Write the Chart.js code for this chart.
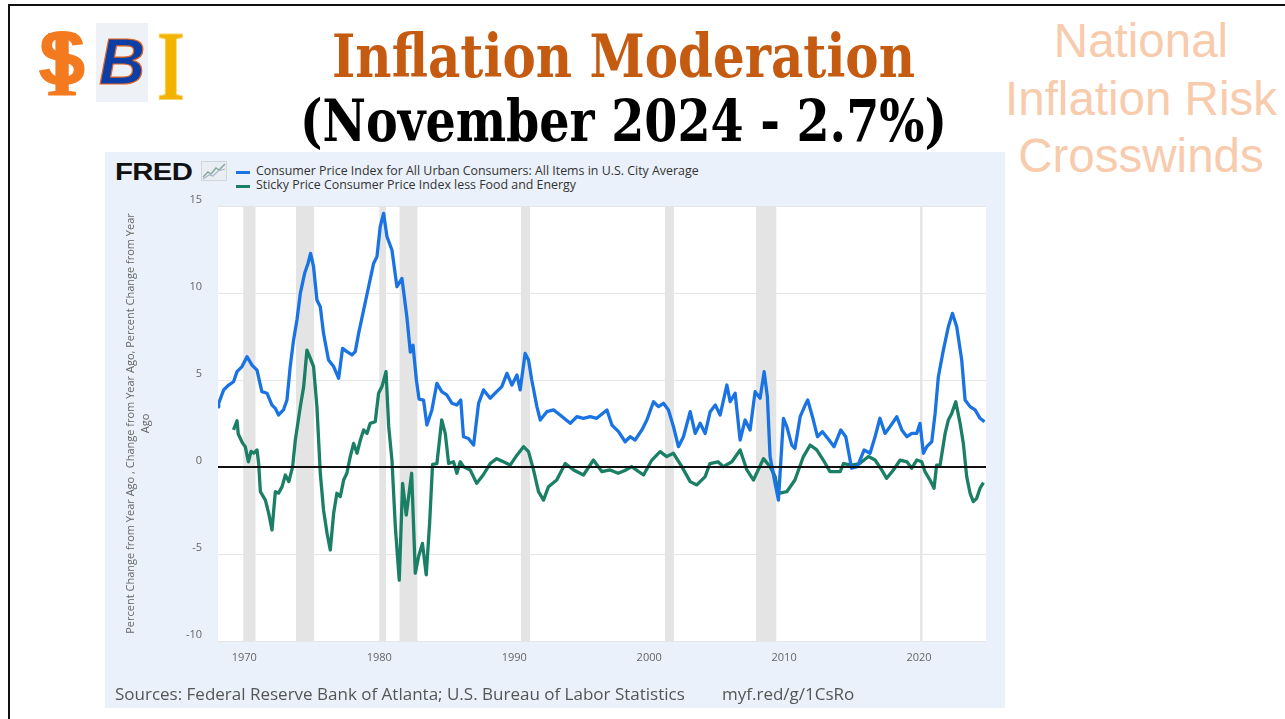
<!DOCTYPE html>
<html>
<head>
<meta charset="utf-8">
<script src="https://cdn.jsdelivr.net/npm/chart.js@4.4.1/dist/chart.umd.min.js"></script>
<style>
  html, body { margin:0; padding:0; background:#fff; }
  body { width:1285px; height:719px; overflow:hidden; position:relative; font-family:"Open Sans", sans-serif; }
  .frame { position:absolute; left:8px; top:4px; width:1300px; height:740px; border:2.5px solid #111; box-sizing:border-box; }
  .title { position:absolute; white-space:nowrap; font-family:"DejaVu Serif", serif; font-weight:bold; transform-origin:0 0; }
  .side { position:absolute; left:990px; width:302px; top:12px; text-align:center; font-family:"Liberation Sans", Arial, sans-serif; font-size:47.5px; line-height:57.5px; color:#f8cbad; }
  .panel { position:absolute; left:105px; top:152px; width:900px; height:556px; background:#eaf1fa; }
  .fred { position:absolute; left:10px; top:6px; font-family:"Liberation Sans", Arial, sans-serif; font-weight:900; font-size:24px; letter-spacing:-0.5px; color:#111; transform:scaleX(1.22); transform-origin:0 0; }
  .leg { position:absolute; left:131px; font-size:12.4px; color:#333; white-space:nowrap; font-family:"Open Sans", sans-serif; }
  .leg i { position:absolute; left:0; top:8px; width:14px; height:3px; }
  .leg span { position:absolute; left:20px; top:0; line-height:16px; }
  .src { position:absolute; top:530px; font-size:17px; color:#555; white-space:nowrap; font-family:"Open Sans", sans-serif; }
  .logo { position:absolute; }
</style>
</head>
<body>
<div class="frame"></div>

<!-- logos -->
<div class="logo" style="left:33px;top:22px;width:58px;height:84px;">
  <span style="position:absolute;left:0;top:-6px;width:58px;text-align:center;font-family:'Liberation Sans',Arial,sans-serif;font-weight:bold;font-size:76px;line-height:84px;color:#f47a20;">S</span>
  <span style="position:absolute;left:0;top:-6px;width:58px;text-align:center;font-family:'Liberation Serif',serif;font-weight:bold;font-size:96px;line-height:96px;color:#f47a20;transform:scaleX(0.9);">I</span>
</div>
<div class="logo" style="left:96px;top:23px;width:52px;height:79px;background:#eef1f6;">
  <span style="position:absolute;left:0;top:6px;width:52px;text-align:center;font-family:'Liberation Sans',Arial,sans-serif;font-weight:bold;font-style:italic;font-size:64px;line-height:66px;color:#0b3fa6;-webkit-text-stroke:1.2px #e4661f;">B</span>
</div>
<div class="logo" style="left:152px;top:26px;width:34px;height:78px;">
  <span style="position:absolute;left:0;top:-8px;width:34px;text-align:center;font-family:'Liberation Serif',serif;font-weight:bold;font-size:100px;line-height:96px;color:#f2b400;-webkit-text-stroke:1px #f7d46a;transform:scaleX(0.72);transform-origin:50% 0;">I</span>
</div>

<div id="t1" class="title" data-left="332" data-w="583" style="top:26px;font-size:60px;line-height:60px;color:#c55a11;">Inflation Moderation</div>
<div id="t2" class="title" data-left="300" data-w="647" style="top:92px;font-size:57px;line-height:57px;color:#000;">(November 2024 - 2.7%)</div>

<div class="side">National<br>Inflation Risk<br>Crosswinds</div>

<div class="panel">
  <div class="fred">FRED</div>
  <svg style="position:absolute;left:96px;top:9px;" width="26" height="20" viewBox="0 0 26 20">
    <rect x="0.5" y="0.5" width="25" height="19" fill="#e9eef3" stroke="#cfd6dc"/>
    <polyline points="2,16 7,11 10,13 15,7 18,9 24,3" fill="none" stroke="#8aa89a" stroke-width="1.5"/>
    <polyline points="2,18 8,14 12,15 17,10 24,8" fill="none" stroke="#a9b8c6" stroke-width="1.2"/>
  </svg>
  <div class="leg" style="top:11px;"><i style="background:#1a73e3"></i><span id="lg1"></span></div>
  <div class="leg" style="top:25px;"><i style="background:#1b7f66"></i><span id="lg2"></span></div>
  <div style="position:absolute;left:0;top:0;width:900px;height:556px;"><canvas id="c"></canvas></div>
  <div class="src" style="left:10px;" id="srcNote"></div>
  <div class="src" style="left:617px;">myf.red/g/1CsRo</div>
</div>

<script>
// ---------------- data ----------------
const seriesNames = [
  "Consumer Price Index for All Urban Consumers: All Items in U.S. City Average",
  "Sticky Price Consumer Price Index less Food and Energy"
];
const yAxisTitle = ["Percent Change from Year Ago , Change from Year Ago, Percent Change from Year", "Ago"];
const xTickLabels = [1970, 1980, 1990, 2000, 2010, 2020];
const yTickLabels = [15, 10, 5, 0, -5, -10];

const cpiDates = [1968.05,1968.1,1968.47,1968.84,1969.2,1969.46,1969.83,1970.2,1970.57,1970.94,1971.3,1971.68,1972.05,1972.3,1972.54,1972.9,1973.16,1973.4,1973.65,1973.9,1974.15,1974.47,1974.72,1974.91,1975.13,1975.38,1975.63,1975.87,1976.24,1976.62,1976.99,1977.28,1977.6,1977.98,1978.22,1978.47,1978.84,1979.21,1979.58,1979.83,1980.07,1980.32,1980.57,1980.94,1981.31,1981.68,1982.05,1982.3,1982.5,1982.75,1982.95,1983.28,1983.53,1983.9,1984.27,1984.63,1985.0,1985.39,1985.75,1986.04,1986.24,1986.61,1986.99,1987.36,1987.73,1988.22,1988.7,1989.08,1989.46,1989.83,1990.2,1990.44,1990.81,1991.06,1991.3,1991.68,1991.93,1992.42,1992.91,1993.4,1994.15,1994.64,1995.13,1995.63,1996.11,1996.87,1997.24,1997.73,1998.22,1998.59,1998.96,1999.46,1999.83,2000.32,2000.69,2001.06,2001.43,2001.8,2002.17,2002.54,2003.04,2003.41,2003.78,2004.15,2004.52,2004.9,2005.26,2005.76,2006.0,2006.37,2006.74,2007.11,2007.48,2007.85,2008.22,2008.52,2008.76,2008.96,2009.33,2009.58,2009.95,2010.2,2010.57,2010.8,2011.19,2011.56,2011.75,2012.1,2012.47,2012.84,2013.33,2013.7,2014.2,2014.57,2015.0,2015.43,2015.93,2016.37,2016.74,2017.1,2017.48,2017.85,2018.35,2018.72,2019.1,2019.46,2019.83,2020.07,2020.32,2020.57,2020.94,2021.19,2021.43,2021.8,2022.17,2022.47,2022.79,2023.16,2023.41,2023.78,2024.15,2024.52,2024.85];
const cpiValues = [3.45,3.66,4.43,4.71,4.9,5.48,5.77,6.34,5.86,5.57,4.33,4.24,3.56,3.37,2.99,3.28,3.85,5.77,7.3,8.45,9.98,11.13,11.7,12.28,11.51,9.6,9.21,7.68,6.15,5.77,5.1,6.82,6.63,6.44,6.63,7.68,9.02,10.36,11.7,12.09,13.81,14.58,13.24,12.47,10.36,10.84,8.6,6.6,7.0,5.0,3.9,3.85,2.41,3.28,4.81,4.33,4.14,3.66,3.56,3.85,1.74,1.64,1.26,3.66,4.43,3.95,4.33,4.62,5.38,4.71,5.29,4.43,6.53,6.15,5.0,3.47,2.7,3.18,3.28,2.99,2.51,2.89,2.8,2.89,2.8,3.28,2.41,2.03,1.45,1.74,1.55,2.13,2.7,3.75,3.47,3.66,3.28,2.32,1.17,1.74,3.18,1.93,2.51,1.93,3.18,3.56,2.99,4.71,3.75,4.24,1.55,2.7,2.13,4.33,3.95,5.48,4.04,0.6,-0.94,-1.9,2.8,2.32,1.26,1.07,2.89,3.56,3.85,2.89,1.74,2.03,1.55,1.17,2.13,1.74,-0.07,0.02,0.98,0.79,1.74,2.8,1.93,2.32,2.89,2.13,1.74,1.93,1.93,2.51,0.79,1.17,1.45,3.08,5.19,6.72,8.06,8.83,8.06,6.15,3.85,3.47,3.28,2.8,2.6];

const stickyDates = [1969.2,1969.46,1969.55,1969.7,1969.85,1970.07,1970.3,1970.5,1970.7,1970.94,1971.06,1971.19,1971.56,1971.8,1972.05,1972.3,1972.54,1972.8,1973.04,1973.3,1973.58,1973.78,1974.15,1974.4,1974.64,1974.89,1975.13,1975.38,1975.63,1975.87,1976.13,1976.37,1976.62,1976.86,1977.11,1977.36,1977.6,1977.85,1978.1,1978.35,1978.6,1978.84,1979.09,1979.33,1979.7,1979.95,1980.2,1980.5,1980.7,1980.94,1981.19,1981.48,1981.73,1982.0,1982.4,1982.67,1982.91,1983.2,1983.48,1983.73,1983.95,1984.27,1984.63,1984.89,1985.14,1985.5,1985.75,1986.0,1986.25,1986.74,1987.22,1987.7,1988.22,1988.7,1989.2,1989.7,1990.2,1990.69,1991.06,1991.43,1991.8,1992.17,1992.54,1993.15,1993.78,1994.4,1995.13,1995.87,1996.5,1997.1,1997.7,1998.2,1998.7,1999.58,2000.2,2000.81,2001.3,2001.8,2002.42,2003.04,2003.53,2004.15,2004.5,2005.1,2005.5,2006.13,2006.74,2007.24,2007.73,2008.47,2008.96,2009.33,2009.58,2010.2,2010.8,2011.43,2011.93,2012.42,2012.9,2013.4,2014.15,2014.4,2015.0,2015.6,2016.25,2016.74,2017.23,2017.6,2018.1,2018.6,2019.1,2019.46,2019.83,2020.2,2020.44,2020.81,2021.11,2021.3,2021.56,2021.93,2022.17,2022.42,2022.72,2023.04,2023.28,2023.53,2023.78,2024.02,2024.27,2024.52,2024.77];
const stickyValues = [2.13,2.66,1.9,1.65,1.4,1.17,0.3,0.9,0.8,0.98,0.23,-1.42,-1.9,-2.64,-3.62,-1.42,-1.5,-1.13,-0.46,-0.84,0.02,1.55,3.47,4.62,6.72,6.25,5.77,3.47,-0.36,-2.47,-3.81,-4.77,-2.66,-1.51,-1.7,-0.75,-0.36,0.6,1.36,0.79,1.55,2.13,1.93,2.51,2.6,4.24,4.62,5.48,2.32,0.4,-3.43,-6.5,-0.94,-2.76,-0.36,-6.1,-5.15,-4.39,-6.2,-3.24,0.15,0.2,2.7,1.93,0.2,0.3,-0.36,0.3,0.02,-0.17,-0.94,-0.46,0.2,0.48,0.3,0.11,0.68,1.17,0.88,-0.17,-1.42,-1.9,-1.13,-0.75,0.2,-0.17,-0.46,0.4,-0.27,-0.17,-0.36,-0.2,0.02,-0.46,0.4,0.88,0.6,0.79,0.02,-0.84,-1.03,-0.55,0.2,0.3,0.02,0.3,0.98,-0.17,-0.75,0.48,0.02,-0.55,-1.51,-1.42,-0.75,0.6,1.26,0.98,0.4,-0.27,-0.27,0.2,0.11,0.2,0.6,0.4,-0.17,-0.65,-0.17,0.4,0.3,-0.07,0.4,0.3,-0.27,-0.75,-1.22,0.11,0.11,1.93,2.7,3.08,3.75,2.51,1.36,-0.55,-1.51,-1.99,-1.8,-1.22,-0.9];

const recessionStarts = [1969.92, 1973.83, 1980.0, 1981.5, 1990.5, 2001.17, 2007.92, 2020.08];
const recessionEnds   = [1970.83, 1975.17, 1980.5, 1982.83, 1991.17, 2001.83, 2009.42, 2020.25];
const sourceNote = "Sources: Federal Reserve Bank of Atlanta; U.S. Bureau of Labor Statistics";

// ---------------- layout helpers ----------------
document.getElementById('lg1').textContent = seriesNames[0];
document.getElementById('lg2').textContent = seriesNames[1];
document.getElementById('srcNote').textContent = sourceNote;

function fitTitles() {
  document.querySelectorAll('.title').forEach(el => {
    const w = el.getBoundingClientRect().width;
    const target = +el.dataset.w;
    el.style.left = el.dataset.left + 'px';
    el.style.transform = 'scaleX(' + (target / w) + ')';
  });
}

const plotBg = {
  id: 'plotBg',
  beforeDraw(chart) {
    const {ctx, chartArea: a} = chart;
    ctx.save();
    ctx.fillStyle = '#ffffff';
    ctx.fillRect(a.left, a.top, a.right - a.left, a.bottom - a.top);
    ctx.restore();
  },
  beforeDatasetsDraw(chart) {
    const {ctx, chartArea: a, scales: {x}} = chart;
    ctx.save();
    ctx.fillStyle = '#e4e4e4';
    recessionStarts.forEach((s, i) => {
      const x0 = x.getPixelForValue(s), x1 = x.getPixelForValue(recessionEnds[i]);
      ctx.fillRect(x0, a.top, Math.max(2, x1 - x0), a.bottom - a.top);
    });
    ctx.restore();
  },
  afterDatasetsDraw(chart) {
    const {ctx, chartArea: a, scales: {y}} = chart;
    const yy = Math.round(y.getPixelForValue(0));
    ctx.save();
    ctx.strokeStyle = '#111';
    ctx.lineWidth = 2;
    ctx.beginPath();
    ctx.moveTo(a.left, yy);
    ctx.lineTo(a.right, yy);
    ctx.stroke();
    ctx.restore();
  }
};

const tickFont = {family: "'Open Sans', sans-serif", size: 11};

function build() {
  fitTitles();
  new Chart(document.getElementById('c'), {
    type: 'line',
    data: {
      datasets: [
        { label: seriesNames[0], data: cpiDates.map((d, i) => ({x: d, y: cpiValues[i]})),
          borderColor: '#1a73e3', borderWidth: 3.3, pointRadius: 0, tension: 0, borderJoinStyle: 'round' },
        { label: seriesNames[1], data: stickyDates.map((d, i) => ({x: d, y: stickyValues[i]})),
          borderColor: '#1b7f66', borderWidth: 3.3, pointRadius: 0, tension: 0, borderJoinStyle: 'round' }
      ]
    },
    options: {
      animation: false,
      responsive: true,
      maintainAspectRatio: false,
      layout: { padding: { top: 54, right: 19, bottom: 0, left: 0 } },
      plugins: { legend: { display: false }, tooltip: { enabled: false } },
      scales: {
        x: {
          type: 'linear', min: 1968.05, max: 2024.96,
          afterBuildTicks: s => { s.ticks = xTickLabels.map(v => ({value: v})); },
          afterFit: s => { s.height = 67; },
          grid: { display: false, drawTicks: false },
          border: { display: false },
          ticks: { padding: 10, font: tickFont, color: '#666', autoSkip: false, maxRotation: 0, callback: v => String(v) }
        },
        y: {
          min: -10, max: 15,
          afterBuildTicks: s => { s.ticks = yTickLabels.map(v => ({value: v})); },
          afterFit: s => { s.width = 113; },
          grid: { color: '#e6e6e6', lineWidth: 1, drawTicks: false },
          border: { display: false },
          ticks: { padding: 16, labelOffset: -6, font: tickFont, color: '#666', callback: v => String(v) },
          title: { display: true, text: yAxisTitle, color: '#666',
                   font: { family: "'Open Sans', sans-serif", size: 11, lineHeight: 1.36 },
                   padding: { top: 18, bottom: 0 } }
        }
      }
    },
    plugins: [plotBg]
  });
}
if (document.fonts && document.fonts.ready) { document.fonts.ready.then(build); } else { build(); }
</script>
</body>
</html>
